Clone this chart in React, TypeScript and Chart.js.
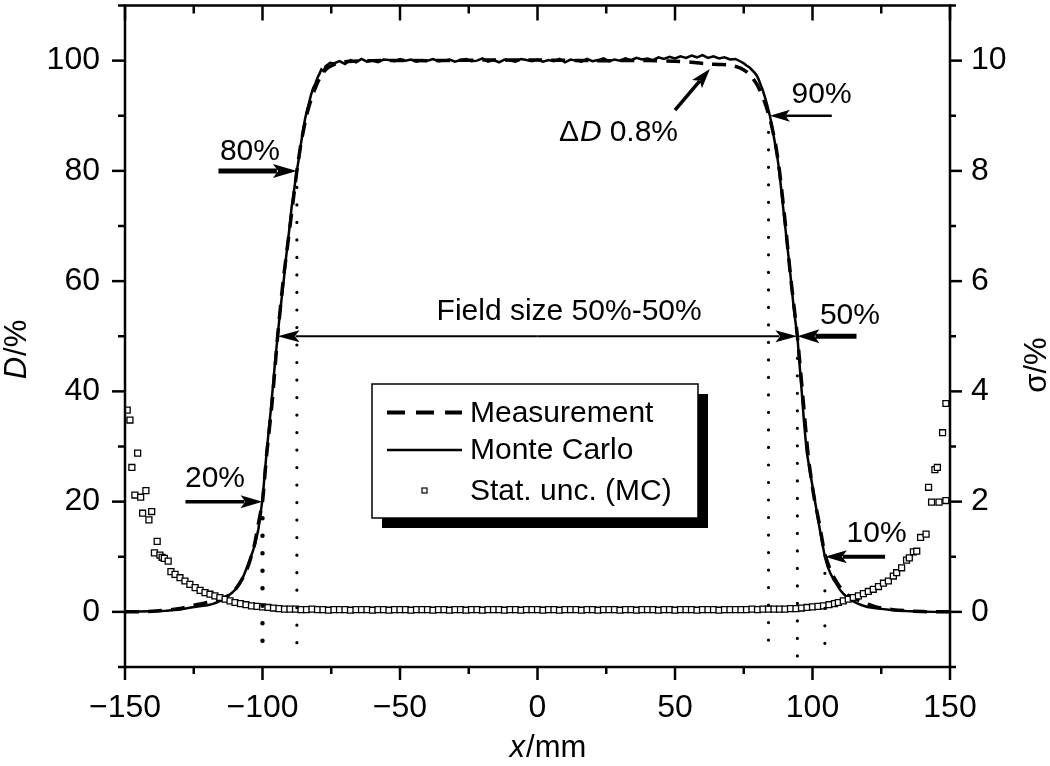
import React, { useEffect, useRef } from "react";
import { Chart, registerables } from "chart.js";

Chart.register(...registerables);

const FONT = "'Liberation Sans', Arial, Helvetica, sans-serif";

// ---------- Data ----------
// Monte Carlo dose profile (x in mm, D in %)
const mcX = [
  -150, -145, -140, -135, -130, -126, -123, -120, -118, -116.7,
  -115, -113, -111, -109, -107.5, -105.7, -104.5, -103.5, -102.5, -101.5,
  -100.8, -100, -99.2, -98.5, -97.7, -97, -96.2, -95.4, -94.5, -93.7,
  -93, -92.2, -91.5, -90.7, -90, -89.4, -88.8, -88.1, -87.5, -86.7,
  -86, -85.2, -84.5, -83.7, -83, -82.3, -81.6, -80.8, -80, -79.3,
  -78.6, -77.8, -77, -76.2, -75.4,
  -74, -72, -70, -68, -66, -64, -62, -60, -58, -56,
  -54, -52, -50, -48, -46, -44, -42, -40, -38, -36,
  -34, -32, -30, -28, -26, -24, -22, -20, -18, -16,
  -14, -12, -10, -8, -6, -4, -2, 0, 2, 4,
  6, 8, 10, 12, 14, 16, 18, 20, 22, 24,
  26, 28, 30, 32, 34, 36, 38, 40, 42, 44,
  46, 48, 50, 52, 54, 56, 58, 60, 62, 64,
  66, 68, 70, 72,
  74, 75, 76, 77, 78, 79, 79.7, 80.4, 81, 81.8,
  82.7, 83.6, 84.5, 85.3, 86, 86.5, 87, 87.5, 88, 88.7,
  89.4, 90, 90.6, 91.2, 91.8, 92.4, 93, 93.7, 94.5, 95.2,
  96, 96.9, 97.9, 98.9, 100, 101, 102, 103, 103.8, 104.5,
  105.5, 106.5, 107.6, 108.8, 110, 111, 112.3, 113.6, 115, 116.5,
  118, 120, 123, 125.8, 128, 130, 134, 138, 144, 150,
];
const mcY = [
  0, 0.05, 0.1, 0.2, 0.45, 0.8, 1.0, 1.2, 1.45, 1.7,
  2.1, 2.7, 3.5, 4.5, 5.8, 8.0, 9.6, 11.0, 12.7, 15.0,
  17.5, 20.4, 25, 29, 33, 36.5, 41, 45.5, 50, 54,
  57, 60.5, 64, 67.5, 70.5, 73.5, 75.5, 78, 80, 82.5,
  85, 87.5, 89.5, 91.2, 92.5, 93.9, 95, 95.8, 96.9, 97.6,
  98.4, 98.1, 99.0, 99.3, 99.6,
  99.5, 99.9, 99.4, 100.1, 99.7, 100.3, 99.8, 100.0, 99.7, 100.2,
  100.1, 99.9, 100.3, 100.0, 100.2, 99.8, 100.1, 100.0, 100.3, 99.9,
  100.0, 100.2, 99.8, 100.1, 100.3, 99.9, 100.0, 100.4, 99.8, 100.1,
  99.7, 100.2, 100.0, 99.8, 100.3, 100.1, 99.9, 100.2, 99.8, 100.1,
  99.9, 100.3, 99.7, 100.2, 100.0, 99.8, 100.3, 99.9, 100.1, 100.4,
  99.9, 100.2, 100.0, 100.4, 100.1, 100.5, 100.2, 100.4, 100.1, 100.6,
  100.3, 100.7, 100.4, 100.8, 100.5, 100.9, 100.6, 101.0, 100.5, 100.8,
  100.4, 100.6, 100.2, 100.3,
  99.8, 99.5, 99.1, 98.8, 98.3, 97.8, 97.3, 96.6, 95.8, 94.8,
  93.4, 91.8, 90, 88, 86, 84.6, 83.2, 81.5, 79.5, 76.3,
  73, 70.3, 67.5, 64.8, 62, 59, 56, 53, 50, 45.5,
  40.5, 34.5, 29, 26, 22.8, 19.8, 16.8, 14, 11.8, 10,
  8.2, 7, 5.9, 5, 4, 3.4, 2.8, 2.3, 1.85, 1.5,
  1.2, 0.9, 0.65, 0.5, 0.38, 0.3, 0.15, 0.05, 0, 0,
];

// Measured dose profile
const measX = [
  -150, -140, -130, -125, -120, -116, -113, -110, -107, -105,
  -103, -101.5, -100, -98.5, -96.5, -94.5, -92.5, -90.5, -88.5, -87.5,
  -86, -84, -82, -80, -78, -76, -73, -70, -60, -40,
  -20, 0, 20, 40, 50, 56, 62, 66, 70, 74,
  77, 80, 82.5, 84.5, 86.5, 88, 90, 92, 94.5, 96.5,
  98.5, 100.5, 102.5, 104.5, 107, 110, 113, 115, 117, 120,
  123, 125, 130, 140, 150,
];
const measY = [
  0, 0.1, 0.6, 1.2, 1.7, 2.1, 2.8, 4.0, 6.3, 8.6,
  12, 16, 20, 28.5, 38, 50, 60, 68, 76, 80,
  85, 90, 93.5, 96, 97.8, 98.8, 99.5, 99.8, 100.0, 100.0,
  100.1, 100.1, 100.0, 100.0, 99.9, 99.7, 99.4, 99.3, 99.2, 98.6,
  97.6, 95.5, 92.6, 89.5, 85, 80, 71, 61, 50, 39,
  28, 21, 16, 10.5, 7, 4.5, 3.0, 2.6, 2.0, 1.4,
  0.9, 0.7, 0.35, 0.05, 0,
];

// Statistical uncertainty of MC (sigma in %)
const sigmaX = [
  -149.2, -148.2, -147.5, -146.4, -145.4, -144.3, -143.6, -142.4, -141.3, -140.3,
  -139.3, -138.3, -137.3, -136.5, -135.7, -134.3, -133.3, -131.8, -130, -128.2,
  -126.4, -124.5, -122.7, -120.9, -119.1, -117.3, -115.5, -113.6, -111.8, -110,
  -108, -106, -104, -102, -100, -98, -96, -94, -92, -90,
  -88, -86, -84, -82, -80, -78, -76, -74, -72, -70,
  -68, -66, -64, -62, -60, -58, -56, -54, -52, -50,
  -48, -46, -44, -42, -40, -38, -36, -34, -32, -30,
  -28, -26, -24, -22, -20, -18, -16, -14, -12, -10,
  -8, -6, -4, -2, 0, 2, 4, 6, 8, 10,
  12, 14, 16, 18, 20, 22, 24, 26, 28, 30,
  32, 34, 36, 38, 40, 42, 44, 46, 48, 50,
  52, 54, 56, 58, 60, 62, 64, 66, 68, 70,
  72, 74, 76, 78, 80, 82, 84, 86, 88,
  90, 92, 94, 96, 98, 100, 102, 104, 106, 108,
  109.4, 111.2, 113, 114.8, 116.7, 118.5, 120.3, 122.1, 124, 125.8,
  127.6, 129.4, 130.6, 132.4, 134.2, 135.2, 136.7, 137.9, 139.3, 141.3,
  142.2, 143.3, 144.5, 145.4, 146, 147.3, 148.5, 148.5,
];
const sigmaY = [
  3.66, 3.48, 2.62, 2.12, 2.88, 2.08, 1.79, 2.20, 1.67, 1.82,
  1.07, 1.28, 1.03, 0.99, 0.97, 0.92, 0.73, 0.68, 0.62, 0.56,
  0.50, 0.44, 0.39, 0.35, 0.32, 0.29, 0.26, 0.23, 0.20, 0.17,
  0.15, 0.13, 0.11, 0.10, 0.09, 0.08, 0.07, 0.06, 0.05, 0.05,
  0.05, 0.04, 0.04, 0.05, 0.04, 0.04, 0.03, 0.04, 0.04, 0.04,
  0.03, 0.04, 0.04, 0.04, 0.03, 0.04, 0.04, 0.03, 0.04, 0.04,
  0.04, 0.03, 0.04, 0.04, 0.04, 0.03, 0.04, 0.04, 0.03, 0.04,
  0.04, 0.03, 0.04, 0.04, 0.03, 0.04, 0.04, 0.04, 0.03, 0.04,
  0.04, 0.03, 0.04, 0.04, 0.04, 0.03, 0.04, 0.04, 0.03, 0.04,
  0.04, 0.04, 0.03, 0.04, 0.04, 0.03, 0.04, 0.04, 0.04, 0.03,
  0.04, 0.04, 0.03, 0.04, 0.04, 0.04, 0.03, 0.04, 0.04, 0.03,
  0.04, 0.04, 0.04, 0.03, 0.04, 0.04, 0.04, 0.03, 0.04, 0.04,
  0.04, 0.04, 0.04, 0.05, 0.04, 0.05, 0.05, 0.05, 0.05,
  0.05, 0.06, 0.06, 0.07, 0.08, 0.09, 0.10, 0.11, 0.13, 0.15,
  0.17, 0.20, 0.23, 0.26, 0.29, 0.33, 0.37, 0.41, 0.46, 0.52,
  0.56, 0.65, 0.71, 0.80, 0.94, 0.98, 1.09, 1.10, 1.35, 1.41,
  2.26, 1.99, 2.58, 2.62, 1.99, 3.25, 2.02, 3.78,
];

// Tick values
const xTicks = [-150, -100, -50, 0, 50, 100, 150];
const xMinor = [-125, -75, -25, 25, 75, 125];
const dTicks = [0, 20, 40, 60, 80, 100];
const dMinor = [-10, 10, 30, 50, 70, 90, 110];
const sTicks = [0, 2, 4, 6, 8, 10];
const sMinor = [-1, 1, 3, 5, 7, 9, 11];

// Legend entries
const legendLabels = ["Measurement", "Monte Carlo", "Stat. unc. (MC)"];

// Annotations (data coordinates)
const pctLabels = ["80%", "20%", "90%", "50%", "10%"];
const pctArrowFromX = [-116, -128, 107, 116, 126.4];
const pctArrowToX = [-87.5, -100, 84.5, 94.5, 104.5];
const pctArrowY = [80, 20, 90, 50, 10];
const pctLabelX = [-115.5, -128.2, 92.4, 102.7, 112.4];
const pctLabelY = [81.9, 22.6, 92.3, 52.2, 12.6];

const dotLineX = [-100, -87.5, 84, 94.5, 104.5];
const dotLineTop = [17, 77, 87, 46, 7];
const dotLineBottom = [-7.7, -7.6, -7, -9.4, -8.8];

const fieldArrowX = [-94.5, 94.5];
const fieldArrowY = 50;
const fieldLabel = "Field size 50%-50%";
const fieldLabelPos = [11.5, 52.9];

const deltaArrowFrom = [50, 91];
const deltaArrowTo = [62.7, 98.5];
const deltaLabelPos = [7.8, 85.5];

// ---------- Styles ----------
const pctArrowStyle = [
  { w: 5, hl: 24, hw: 14 },
  { w: 3.5, hl: 22, hw: 13 },
  { w: 2.5, hl: 20, hw: 12 },
  { w: 5, hl: 22, hw: 14 },
  { w: 4, hl: 22, hw: 13 },
];
const dotLineWidth = [4.5, 3.2, 3.2, 3.2, 3.2];

const fmtTick = (v: number) => (v < 0 ? "\u2212" + Math.abs(v) : String(v));

function drawArrow(ctx: CanvasRenderingContext2D, x1: number, y1: number, x2: number, y2: number, w: number, hl: number, hw: number) {
  const ang = Math.atan2(y2 - y1, x2 - x1);
  const bx = x2 - Math.cos(ang) * hl;
  const by = y2 - Math.sin(ang) * hl;
  ctx.lineWidth = w;
  ctx.lineCap = "butt";
  ctx.beginPath();
  ctx.moveTo(x1, y1);
  ctx.lineTo(bx + Math.cos(ang) * 4, by + Math.sin(ang) * 4);
  ctx.stroke();
  const nx = -Math.sin(ang), ny = Math.cos(ang);
  ctx.beginPath();
  ctx.moveTo(x2, y2);
  ctx.lineTo(bx + nx * hw / 2, by + ny * hw / 2);
  ctx.lineTo(bx + Math.cos(ang) * hl * 0.22, by + Math.sin(ang) * hl * 0.22);
  ctx.lineTo(bx - nx * hw / 2, by - ny * hw / 2);
  ctx.closePath();
  ctx.fill();
}

const annotPlugin = {
  id: "annot",
  afterDatasetsDraw(chart: any) {
    const { ctx, scales } = chart;
    const px = (v: number) => scales.x.getPixelForValue(v);
    const py = (v: number) => scales.y.getPixelForValue(v);
    ctx.save();
    ctx.strokeStyle = "#000";
    ctx.fillStyle = "#000";

    dotLineX.forEach((x, i) => {
      ctx.lineWidth = dotLineWidth[i];
      ctx.lineCap = "round";
      ctx.setLineDash([0.01, 17.5]);
      ctx.beginPath();
      ctx.moveTo(px(x), py(dotLineTop[i]));
      ctx.lineTo(px(x), py(dotLineBottom[i]));
      ctx.stroke();
    });
    ctx.setLineDash([]);

    pctLabels.forEach((lab, i) => {
      const s = pctArrowStyle[i];
      drawArrow(ctx, px(pctArrowFromX[i]), py(pctArrowY[i]), px(pctArrowToX[i]), py(pctArrowY[i]), s.w, s.hl, s.hw);
      ctx.font = `30px ${FONT}`;
      ctx.textAlign = "left";
      ctx.textBaseline = "alphabetic";
      ctx.fillText(lab, px(pctLabelX[i]), py(pctLabelY[i]));
    });

    const fy = py(fieldArrowY);
    const fx1 = px(fieldArrowX[0]), fx2 = px(fieldArrowX[1]);
    const mid = (fx1 + fx2) / 2;
    drawArrow(ctx, mid, fy, fx1, fy, 2, 22, 12);
    drawArrow(ctx, mid, fy, fx2, fy, 2, 22, 12);
    ctx.font = `30px ${FONT}`;
    ctx.textAlign = "center";
    ctx.fillText(fieldLabel, px(fieldLabelPos[0]), py(fieldLabelPos[1]));

    drawArrow(ctx, px(deltaArrowFrom[0]), py(deltaArrowFrom[1]), px(deltaArrowTo[0]), py(deltaArrowTo[1]), 3.5, 20, 13);
    let tx = px(deltaLabelPos[0]);
    const ty = py(deltaLabelPos[1]);
    ctx.textAlign = "left";
    ctx.font = `30px ${FONT}`;
    ctx.fillText("\u0394", tx, ty);
    tx += ctx.measureText("\u0394").width + 1;
    ctx.font = `italic 30px ${FONT}`;
    ctx.fillText("D", tx, ty);
    tx += ctx.measureText("D").width + 8;
    ctx.font = `30px ${FONT}`;
    ctx.fillText("0.8%", tx, ty);

    const L = 372, T = 384, R = 698, B = 518;
    ctx.fillStyle = "#000";
    ctx.fillRect(L + 10, T + 10, R - L, B - T);
    ctx.fillStyle = "#fff";
    ctx.fillRect(L, T, R - L, B - T);
    ctx.strokeStyle = "#000";
    ctx.lineWidth = 1.5;
    ctx.strokeRect(L, T, R - L, B - T);
    const rows = [412.5, 450, 490.5];
    ctx.fillStyle = "#000";
    ctx.lineWidth = 4;
    ctx.setLineDash([18, 11]);
    ctx.beginPath();
    ctx.moveTo(387, rows[0]);
    ctx.lineTo(462, rows[0]);
    ctx.stroke();
    ctx.setLineDash([]);
    ctx.lineWidth = 2.5;
    ctx.beginPath();
    ctx.moveTo(387, rows[1]);
    ctx.lineTo(462, rows[1]);
    ctx.stroke();
    ctx.lineWidth = 1.2;
    ctx.fillStyle = "#fff";
    ctx.fillRect(422, rows[2] - 2.5, 5, 5);
    ctx.strokeRect(422, rows[2] - 2.5, 5, 5);
    ctx.fillStyle = "#000";
    ctx.font = `30px ${FONT}`;
    ctx.textAlign = "left";
    ctx.textBaseline = "middle";
    legendLabels.forEach((t, i) => ctx.fillText(t, 470, rows[i] + 1));
    ctx.restore();
  },
  afterDraw(chart: any) {
    const { ctx, chartArea: ca, scales } = chart;
    const xs = scales.x, ys = scales.y, ys2 = scales.y2;
    ctx.save();
    ctx.strokeStyle = "#000";
    ctx.fillStyle = "#000";
    ctx.lineWidth = 2.5;
    ctx.lineCap = "butt";
    ctx.strokeRect(ca.left, ca.top, ca.right - ca.left, ca.bottom - ca.top);
    const line = (x1: number, y1: number, x2: number, y2: number) => {
      ctx.beginPath();
      ctx.moveTo(x1, y1);
      ctx.lineTo(x2, y2);
      ctx.stroke();
    };
    xTicks.forEach((v) => {
      const x = xs.getPixelForValue(v);
      line(x, ca.bottom, x, ca.bottom + 13);
      line(x, ca.top, x, ca.top + 15);
    });
    xMinor.forEach((v) => {
      const x = xs.getPixelForValue(v);
      line(x, ca.bottom, x, ca.bottom + 7);
      line(x, ca.top, x, ca.top + 8);
    });
    dTicks.forEach((v) => {
      const y = ys.getPixelForValue(v);
      line(ca.left - 13, y, ca.left, y);
    });
    dMinor.forEach((v) => {
      const y = ys.getPixelForValue(v);
      line(ca.left - 7, y, ca.left, y);
    });
    sTicks.forEach((v) => {
      const y = ys2.getPixelForValue(v);
      line(ca.right, y, ca.right + 12, y);
    });
    sMinor.forEach((v) => {
      const y = ys2.getPixelForValue(v);
      line(ca.right, y, ca.right + 6, y);
    });

    ctx.textBaseline = "middle";
    ctx.textAlign = "left";
    {
      const y = 748;
      ctx.font = `italic 31px ${FONT}`;
      const w1 = ctx.measureText("x").width;
      ctx.font = `31px ${FONT}`;
      const w2 = ctx.measureText("/mm").width;
      const x = (ca.left + ca.right) / 2 + 10 - (w1 + w2) / 2;
      ctx.font = `italic 31px ${FONT}`;
      ctx.fillText("x", x, y);
      ctx.font = `31px ${FONT}`;
      ctx.fillText("/mm", x + w1 + 1, y);
    }
    {
      ctx.save();
      ctx.translate(17, 350);
      ctx.rotate(-Math.PI / 2);
      ctx.font = `italic 31px ${FONT}`;
      const w1 = ctx.measureText("D").width;
      ctx.font = `31px ${FONT}`;
      const w2 = ctx.measureText("/%").width;
      const x0 = -(w1 + w2) / 2;
      ctx.font = `italic 31px ${FONT}`;
      ctx.fillText("D", x0, 0);
      ctx.font = `31px ${FONT}`;
      ctx.fillText("/%", x0 + w1 + 1, 0);
      ctx.restore();
    }
    {
      ctx.save();
      ctx.translate(1037, 365);
      ctx.rotate(-Math.PI / 2);
      ctx.font = `31px ${FONT}`;
      const t = "\u03C3/%";
      const w = ctx.measureText(t).width;
      ctx.fillText(t, -w / 2, 0);
      ctx.restore();
    }
    ctx.restore();
  },
};

export default function App() {
  const ref = useRef<HTMLCanvasElement>(null);
  useEffect(() => {
    const canvas = ref.current;
    if (!canvas) return;
    const tickFont = { family: FONT, size: 32 };
    const chart = new Chart(canvas, {
      type: "scatter",
      data: {
        datasets: [
          {
            label: "Stat. unc. (MC)",
            data: sigmaX.map((x, i) => ({ x, y: sigmaY[i] })),
            yAxisID: "y2",
            showLine: false,
            pointStyle: "rect",
            pointRadius: 4.2,
            pointBorderWidth: 1.3,
            pointBackgroundColor: "#fff",
            pointBorderColor: "#000",
          },
          {
            label: "Monte Carlo",
            data: mcX.map((x, i) => ({ x, y: mcY[i] })),
            yAxisID: "y",
            showLine: true,
            borderColor: "#000",
            borderWidth: 2.5,
            pointRadius: 0,
            tension: 0,
          },
          {
            label: "Measurement",
            data: measX.map((x, i) => ({ x, y: measY[i] })),
            yAxisID: "y",
            showLine: true,
            borderColor: "#000",
            borderWidth: 3.5,
            borderDash: [14, 9],
            pointRadius: 0,
            tension: 0.2,
          },
        ],
      },
      options: {
        animation: false,
        responsive: false,
        devicePixelRatio: 1,
        layout: { padding: { top: 1, left: 0, right: 0, bottom: 0 } },
        plugins: { legend: { display: false }, tooltip: { enabled: false } },
        scales: {
          x: {
            type: "linear",
            position: "bottom",
            min: -150,
            max: 150,
            afterBuildTicks: (s: any) => { s.ticks = xTicks.map((v) => ({ value: v })); },
            afterFit: (s: any) => { s.height = 99; s.paddingLeft = 0; s.paddingRight = 0; },
            grid: { display: false, drawTicks: false },
            border: { display: false },
            ticks: { font: tickFont, color: "#000", padding: 22, maxRotation: 0, autoSkip: false, callback: (v: any) => fmtTick(Number(v)) },
          },
          y: {
            type: "linear",
            position: "left",
            min: -10,
            max: 110,
            afterBuildTicks: (s: any) => { s.ticks = dTicks.map((v) => ({ value: v })); },
            afterFit: (s: any) => { s.width = 125; s.paddingTop = 0; s.paddingBottom = 0; },
            grid: { display: false, drawTicks: false },
            border: { display: false },
            ticks: { font: tickFont, color: "#000", padding: 25 },
          },
          y2: {
            type: "linear",
            position: "right",
            min: -1,
            max: 11,
            afterBuildTicks: (s: any) => { s.ticks = sTicks.map((v) => ({ value: v })); },
            afterFit: (s: any) => { s.width = 100; s.paddingTop = 0; s.paddingBottom = 0; },
            grid: { display: false, drawTicks: false },
            border: { display: false },
            ticks: { font: tickFont, color: "#000", padding: 21 },
          },
        },
      },
      plugins: [annotPlugin],
    } as any);
    return () => chart.destroy();
  }, []);
  return (
    <div style={{ position: "absolute", left: 0, top: 0, width: 1050, height: 766, background: "#fff" }}>
      <canvas ref={ref} width={1050} height={766} style={{ display: "block", width: 1050, height: 766 }} />
    </div>
  );
}
